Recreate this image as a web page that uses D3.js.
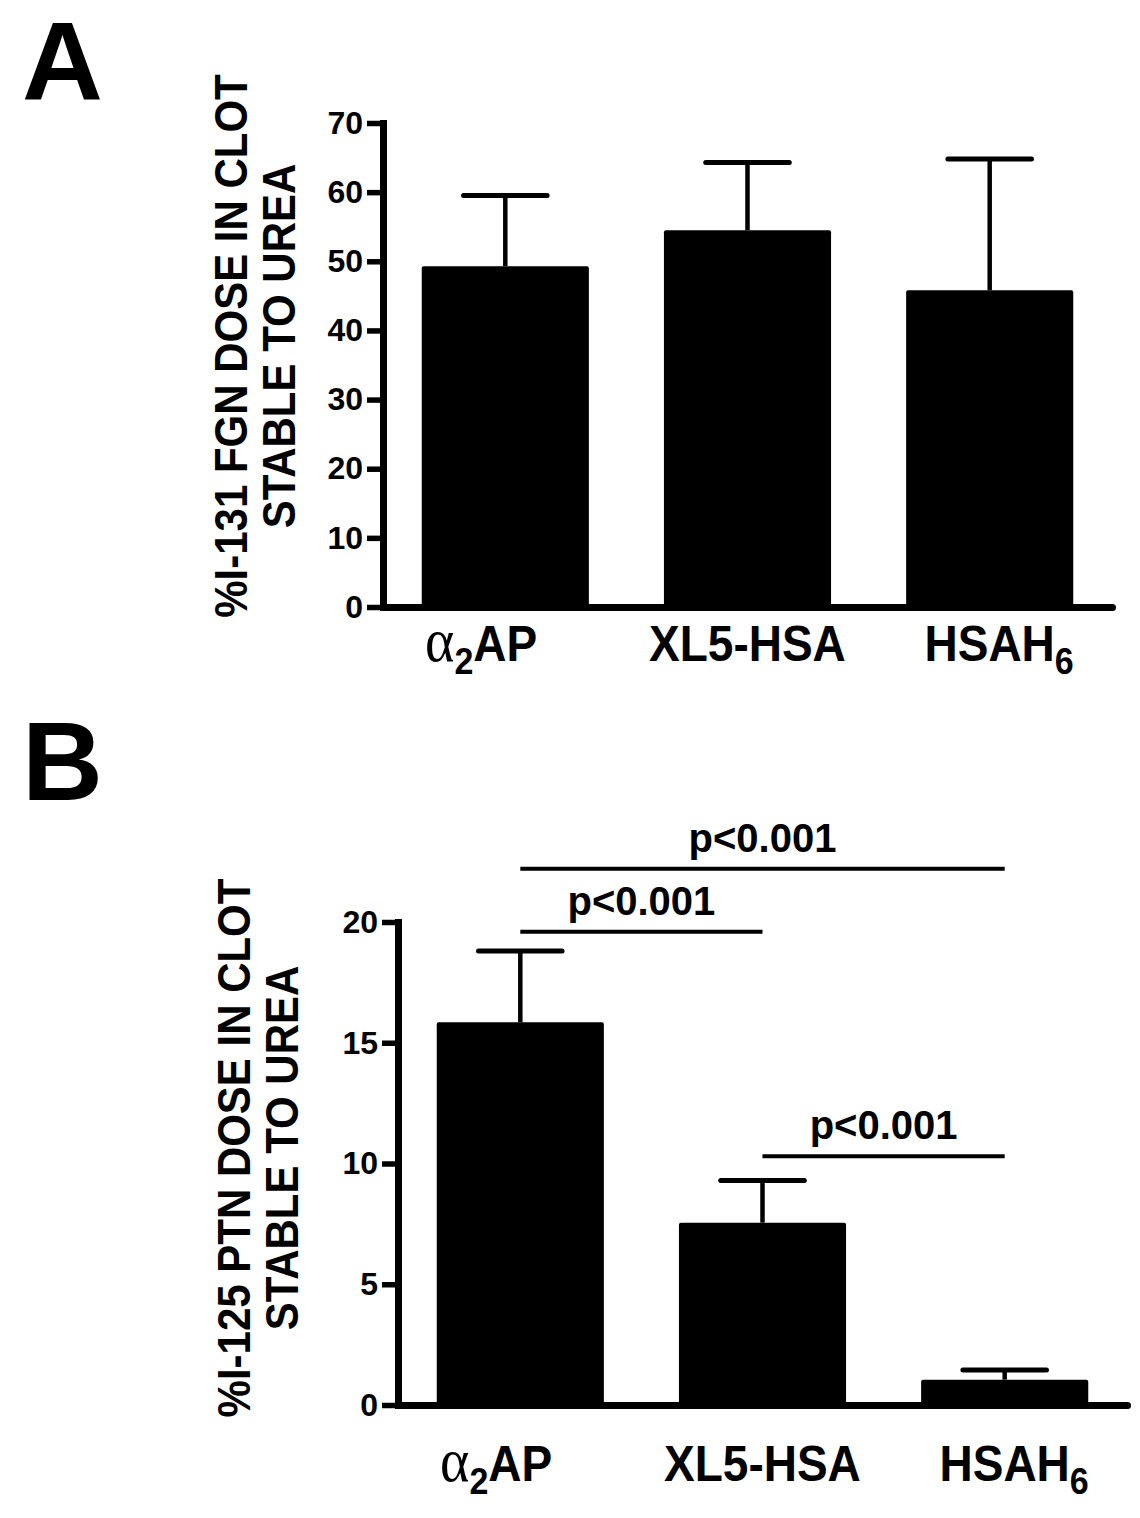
<!DOCTYPE html>
<html>
<head>
<meta charset="utf-8">
<script src="https://cdn.jsdelivr.net/npm/d3@7"></script>
<style>
body { margin: 0; background: #fff; }
text { font-family: "Liberation Sans", Arial, sans-serif; font-weight: bold; fill: #000; }
</style>
</head>
<body>
<svg id="chart" width="1140" height="1518"></svg>
<script>
// categories, subscripts in braces
var categories = ["α{2}AP", "XL5-HSA", "HSAH{6}"];

// panel A: I-131 fibrinogen
var fgnMeans = [49.3, 54.5, 45.8];
var fgnErrors = [10.2, 9.8, 19.0];
var fgnTicks = [0, 10, 20, 30, 40, 50, 60, 70];

// panel B: I-125 protein
var ptnMeans = [15.85, 7.55, 1.05];
var ptnErrors = [2.95, 1.75, 0.4];
var ptnTicks = [0, 5, 10, 15, 20];
var ptnComparisons = [[0, 1], [0, 2], [1, 2]];
var ptnCompLevels = [19.6, 22.2, 10.3];
var ptnCompLabels = ["p<0.001", "p<0.001", "p<0.001"];

var svg = d3.select("#chart");
svg.append("rect").attr("width", 1140).attr("height", 1518).attr("fill", "#fff");

function parseLabel(str) {
    var parts = [];
    str.split(/(\{[^}]*\})/).forEach(function(s) {
        if (!s) return;
        if (s[0] === "{") { parts.push({t: s.slice(1, -1), sub: true}); return; }
        // split greek letters out so they get another font
        s.split(/([α-ω])/).forEach(function(r) {
            if (r) parts.push({t: r, sub: false, greek: /^[α-ω]$/.test(r)});
        });
    });
    return parts;
}

function drawLabel(g, str, cx, y) {
    var parts = parseLabel(str);
    var t = g.append("text").attr("x", 0).attr("y", 0).attr("font-size", 46);
    var idx = 0, best = null;
    parts.forEach(function(p, i) {
        var ts = t.append("tspan").text(p.t);
        if (p.sub) {
            ts.attr("font-size", 34).attr("dy", 12);
        } else if (i > 0 && parts[i - 1].sub) {
            ts.attr("dy", -12);
        }
        if (p.greek) {
            ts.attr("font-family", "'Liberation Serif', 'Times New Roman', serif")
              .attr("font-weight", "normal").attr("font-size", 56);
        }
        if (!p.sub && !p.greek && (!best || p.t.length > best.len)) {
            best = {start: idx, len: p.t.length};
        }
        idx += p.t.length;
    });
    // centre the main run of the label, like the original (subscripts hang off)
    var node = t.node();
    var x0 = node.getStartPositionOfChar(best.start).x;
    var x1 = node.getEndPositionOfChar(best.start + best.len - 1).x;
    t.attr("transform", "translate(" + (cx - (x0 + x1) / 2) + "," + y + ") scale(1,1.08)");
}

function drawPanel(cfg) {
    var g = svg.append("g");

    g.append("text")
        .attr("x", cfg.letterX).attr("y", cfg.letterY)
        .attr("font-size", 112)
        .text(cfg.letter);

    var x = d3.scaleBand()
        .domain(d3.range(categories.length))
        .range([cfg.left, cfg.right])
        .paddingInner(0.31)
        .paddingOuter(0.16);

    var y = d3.scaleLinear()
        .domain([0, cfg.yMax])
        .range([cfg.bottom, cfg.top]);

    var bw = x.bandwidth();

    // bars
    g.selectAll(".bar")
        .data(cfg.means)
        .enter().append("rect")
        .attr("class", "bar")
        .attr("x", function(d, i) { return x(i); })
        .attr("y", function(d) { return y(d); })
        .attr("width", bw)
        .attr("height", function(d) { return y(0) - y(d); })
        .attr("rx", 2)
        .attr("fill", "#000");

    // upper error bars
    var eb = g.selectAll(".err")
        .data(cfg.means)
        .enter().append("g").attr("class", "err");
    eb.append("line")
        .attr("x1", function(d, i) { return x(i) + bw / 2; })
        .attr("x2", function(d, i) { return x(i) + bw / 2; })
        .attr("y1", function(d) { return y(d); })
        .attr("y2", function(d, i) { return y(d + cfg.errors[i]); })
        .attr("stroke", "#000").attr("stroke-width", 4.5);
    eb.append("line")
        .attr("x1", function(d, i) { return x(i) + bw / 4; })
        .attr("x2", function(d, i) { return x(i) + bw * 3 / 4; })
        .attr("y1", function(d, i) { return y(d + cfg.errors[i]); })
        .attr("y2", function(d, i) { return y(d + cfg.errors[i]); })
        .attr("stroke", "#000").attr("stroke-width", 5)
        .attr("stroke-linecap", "round");

    // y axis
    var yAxis = g.append("g")
        .attr("transform", "translate(" + cfg.left + ",0)")
        .call(d3.axisLeft(y).tickValues(cfg.ticks).tickSize(16).tickSizeOuter(0).tickPadding(4));
    yAxis.select(".domain").attr("stroke-width", 7).attr("stroke-linecap", "square");
    yAxis.selectAll(".tick line").attr("stroke-width", 5.5);
    yAxis.selectAll(".tick text")
        .attr("font-size", 32)
        .attr("font-family", "'Liberation Sans', Arial, sans-serif")
        .attr("font-weight", "bold")
        .attr("fill", "#000");

    // x axis (line only)
    var xAxis = g.append("g")
        .attr("transform", "translate(0," + cfg.bottom + ")")
        .call(d3.axisBottom(x).tickSize(0).tickSizeOuter(0).tickFormat(""));
    xAxis.select(".domain").attr("stroke-width", 7).attr("stroke-linecap", "round");

    categories.forEach(function(c, i) {
        drawLabel(g, c, x(i) + bw / 2, cfg.labelY);
    });

    // axis title, two rotated lines
    cfg.title.forEach(function(line, k) {
        g.append("text")
            .attr("transform", "translate(" + cfg.titleX[k] + "," + cfg.titleY + ") rotate(-90) scale(1,1.1)")
            .attr("text-anchor", "middle")
            .attr("font-size", 42)
            .text(line);
    });

    // significance lines
    if (cfg.comps) {
        cfg.comps.forEach(function(pair, k) {
            var xa = x(pair[0]) + bw / 2, xb = x(pair[1]) + bw / 2;
            var ly = y(cfg.compLevels[k]);
            g.append("line")
                .attr("x1", xa).attr("x2", xb)
                .attr("y1", ly).attr("y2", ly)
                .attr("stroke", "#000").attr("stroke-width", 4);
            g.append("text")
                .attr("x", (xa + xb) / 2).attr("y", ly - 17)
                .attr("text-anchor", "middle")
                .attr("font-size", 40)
                .text(cfg.compLabels[k]);
        });
    }
}

drawPanel({
    letter: "A", letterX: 22, letterY: 100,
    left: 383, right: 1112, top: 123, bottom: 607,
    yMax: 70, ticks: fgnTicks,
    means: fgnMeans, errors: fgnErrors,
    title: ["%I-131 FGN DOSE IN CLOT", "STABLE TO UREA"],
    titleX: [247, 295], titleY: 346,
    labelY: 661
});

drawPanel({
    letter: "B", letterX: 22, letterY: 800,
    left: 398, right: 1127, top: 922, bottom: 1405,
    yMax: 20, ticks: ptnTicks,
    means: ptnMeans, errors: ptnErrors,
    title: ["%I-125 PTN DOSE IN CLOT", "STABLE TO UREA"],
    titleX: [250, 298], titleY: 1148,
    labelY: 1481,
    comps: ptnComparisons, compLevels: ptnCompLevels, compLabels: ptnCompLabels
});
</script>
</body>
</html>
